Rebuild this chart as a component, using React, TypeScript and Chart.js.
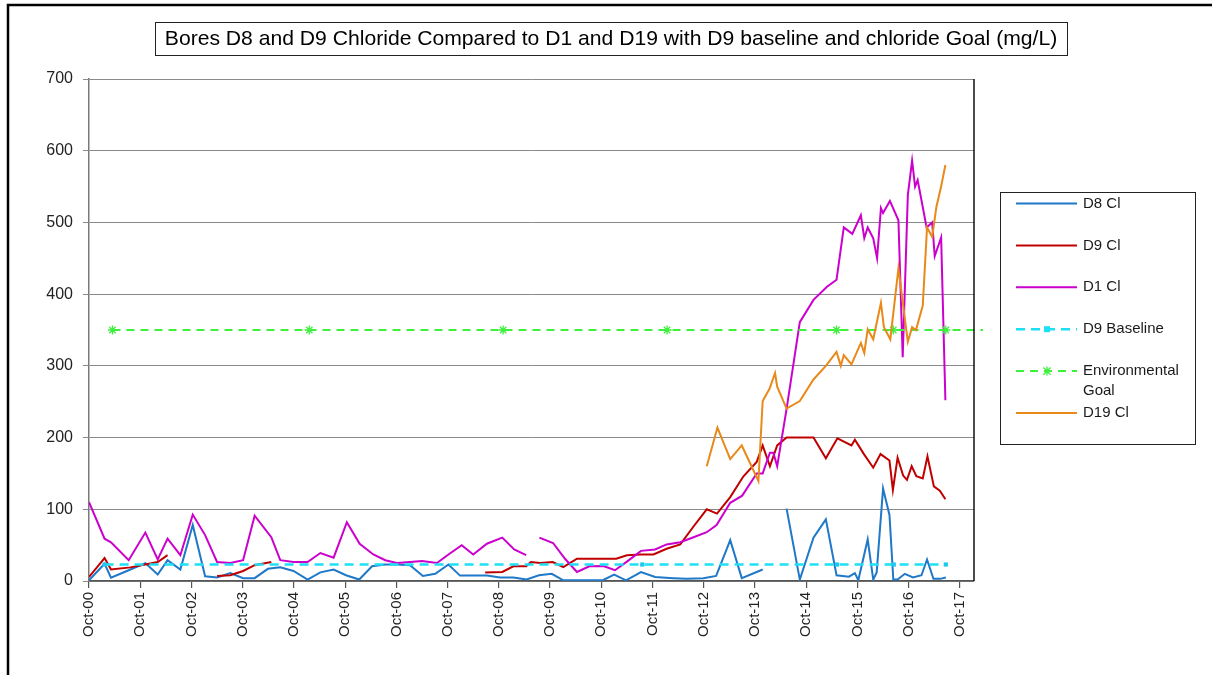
import React, { useEffect, useRef } from 'react';
import { Chart, registerables } from 'chart.js';

Chart.register(...registerables);

const FONT = '"Liberation Sans", Arial, sans-serif';

const TITLE = 'Bores D8 and D9 Chloride Compared to D1 and D19 with D9 baseline and chloride Goal (mg/L)';

// x values are months since Oct-2000
const X_TICK_LABELS = [
  'Oct-00', 'Oct-01', 'Oct-02', 'Oct-03', 'Oct-04', 'Oct-05', 'Oct-06', 'Oct-07', 'Oct-08',
  'Oct-09', 'Oct-10', 'Oct-11', 'Oct-12', 'Oct-13', 'Oct-14', 'Oct-15', 'Oct-16', 'Oct-17',
];
const Y_TICKS = [0, 100, 200, 300, 400, 500, 600, 700];

const D8_MONTHS = [
  0, 3.65, 5.15, 9.3, 13.2, 16.1, 18.4, 21.4, 24.3, 27.2, 30, 33.1, 36.1, 38.8, 41.9, 44.8, 47.9,
  51.2, 54.2, 57.3, 60.2, 63.3, 66.3, 69.4, 72.3, 75.2, 78.2, 81.1, 84.2, 86.9, 90, 93.2, 96.3,
  99.4, 102.5, 105.4, 108.4, 111.1, 114.3, 117.5, 120.5, 123, 125.8, 129.3, 132.6, 136.9, 140,
  143.9, 146.9, 150.2, 152.9, 157.8, 160.5, 163.4, 166.5, 169.7, 172.6, 175.1, 178, 179.4, 180.2,
  182.4, 183.7, 184.5, 186, 187.5, 188.4, 189.4, 191.1, 193, 195, 196.3, 197.8, 199.4, 200.7,
];
const D8_VALUES = [
  1, 24, 4.5, 15, 25, 9, 29, 16, 78, 6.5, 5, 11, 4, 4, 17, 19, 14,
  2, 12, 16, 8, 2, 20.5, 23, 23, 22, 7, 10, 23, 7.5, 7.5, 7.5, 5,
  5, 2, 8, 10, 1, 1, 1, 1.5, 9, 1, 12.5, 5.5, 4, 3,
  4, 7, 57, 4, 16, null, 101, 2, 60.5, 86, 8, 6, 11, 1,
  58, 2, 12, 129, 92, 2, 2, 10, 5, 8, 30, 3, 3, 5,
];

const D9_MONTHS = [
  0, 3.65, 5.15, 9.7, 13.2, 16.1, 18.4, 24, 30, 33.1, 36.1, 38.8, 42.7, 60,
  92.8, 96.8, 99.4, 102.4, 103.5, 105.7, 108.6, 111.1, 114.3, 117.5, 120.5, 123.5, 126, 129.2,
  132.2, 135.3, 138.5, 141.6, 144.7, 147.1, 150.2, 153.3, 156.4, 157.8, 159.5, 161.2, 163.4,
  166.5, 169.7, 172.6, 175.3, 178.6, 179.4, 181.4, 183.7, 185.4, 187.5, 188.3, 189.4, 190.7,
  191.6, 192.7, 193.8, 195.3, 196.4, 197.9, 199.3, 200.6,
];
const D9_VALUES = [
  5.6, 32, 16, 19, 23, 26.5, 36, null, 7, 8, 14, 22, 26.5, null,
  11.7, 12.6, 20.5, 20.5, 26.5, 25, 26.5, 19.5, 31, 31, 31, 31, 36, 37,
  37, 45, 51, 76, 100, 94, 117, 146, 166, 189, 160, 189, 200,
  200, 200, 171, 199, 189, 197, 178, 158, 177, 168, 127, 172, 147,
  141, 160, 146, 143, 174, 132, 126, 114,
];

const D1_MONTHS = [
  0, 3.65, 5.15, 9.3, 13.2, 16.1, 18.4, 21.4, 24.3, 27.2, 30, 33.1, 36.1, 38.8, 42.7, 44.8, 47.9,
  51.2, 54.2, 57.3, 60.4, 63.4, 66.6, 69.4, 72.1, 75.2, 78, 81.5, 84.2, 87.3, 90, 93.2, 96.8,
  99.6, 102.4, 104, 105.5, 108.7, 111.5, 114.3, 117.2, 120.5, 123.2, 126, 129.3, 132.6, 135.3,
  138.5, 141.6, 144.7, 147, 150.2, 153, 156.4, 157.8, 159.5, 160.3, 161.2, 163.4, 166.5, 169.7,
  172.8, 175.1, 176.8, 178.8, 180.8, 181.6, 182.4, 183.7, 184.6, 185.5, 186, 187.6, 189.6, 190.6,
  191.8, 192.8, 193.5, 194.1, 196.2, 197.5, 198.1, 199.6, 200.6,
];
const D1_VALUES = [
  110, 59, 54, 29, 67.5, 30, 59, 36, 92.6, 64, 26.5, 25, 29, 91, 61, 29, 26.5,
  26.5, 39, 32.6, 82, 52, 37, 29, 25, 26.5, 28, 25, 37, 50, 37, 52, 60.5,
  44, 36, null, 60.5, 53, 31, 12.6, 20.5, 21, 15, 27, 42, 44, 51,
  54, 61, 68, 78, 109, 119, 150, 150, 179, 179, 160, 240, 361, 392,
  410, 420, 493, 484, 510, 478, 493, 478, 450, 520, 513, 530, 503, 312,
  538, 586, 550, 559, 493, 500, 453, 479, 252,
];

const D19_MONTHS = [
  144.7, 147.2, 150.2, 152.9, 156.8, 157.8, 159.4, 160.7, 161.2, 163.4, 166.5, 169.7, 172.6,
  175.1, 176.1, 176.8, 178.6, 180.8, 181.6, 182.4, 183.7, 185.5, 186.2, 187.7, 189.6, 191.8,
  192.8, 193.7, 195.3, 196.3, 197.5, 198.5, 199.6, 200.6,
];
const D19_VALUES = [
  160, 214, 170, 189, 139.5, 251, 268, 290, 271, 240.5, 251, 281, 300,
  319.5, 300, 315, 302, 332, 318, 351, 337, 388, 354, 337, 436, 333.5,
  354, 350, 384, 493, 480, 522, 550, 580,
];

const BASELINE_MONTHS = [3.65, 129.6, 175.2, 188.5, 200.7];
const BASELINE_VALUES = [23, 23, 23, 23, 23];

const GOAL_MONTHS = [5.5, 51.6, 97, 135.4, 175.1, 188.4, 200.7, 209.4];
const GOAL_VALUES = [350, 350, 350, 350, 350, 350, 350, 350];

const X_MAX = 207.3;

const toPoints = (xs: number[], ys: (number | null)[]) => xs.map((x, i) => ({ x, y: ys[i] }));

function drawStar(ctx: CanvasRenderingContext2D, x: number, y: number, r: number, color: string) {
  ctx.save();
  ctx.strokeStyle = color;
  ctx.lineWidth = 1.3;
  ctx.setLineDash([]);
  ctx.beginPath();
  ctx.moveTo(x, y - r);
  ctx.lineTo(x, y + r);
  const d = r * 0.8;
  ctx.moveTo(x - d, y - d);
  ctx.lineTo(x + d, y + d);
  ctx.moveTo(x - d, y + d);
  ctx.lineTo(x + d, y - d);
  ctx.stroke();
  ctx.restore();
}

const decorPlugin = {
  id: 'decor',
  beforeDraw(chart: any) {
    const ctx = chart.ctx as CanvasRenderingContext2D;
    ctx.save();
    ctx.fillStyle = '#ffffff';
    ctx.fillRect(0, 0, chart.width, chart.height);
    ctx.restore();
  },
  afterDraw(chart: any) {
    const ctx = chart.ctx as CanvasRenderingContext2D;
    const area = chart.chartArea;
    ctx.save();
    // outer chart border (left & top)
    ctx.strokeStyle = '#000';
    ctx.lineWidth = 2.5;
    ctx.beginPath();
    ctx.moveTo(1220, 5);
    ctx.lineTo(8, 5);
    ctx.lineTo(8, 700);
    ctx.stroke();
    // plot area right border
    ctx.lineWidth = 1.5;
    ctx.strokeStyle = '#111';
    ctx.beginPath();
    ctx.moveTo(area.right, area.top);
    ctx.lineTo(area.right, area.bottom);
    ctx.stroke();

    // title box
    ctx.lineWidth = 1;
    ctx.strokeStyle = '#222';
    ctx.strokeRect(155.5, 22.5, 912, 33);
    ctx.fillStyle = '#000';
    ctx.font = `18px ${FONT}`;
    const w = ctx.measureText(TITLE).width;
    const size = (18 * 893) / w;
    ctx.font = `${size.toFixed(2)}px ${FONT}`;
    ctx.textAlign = 'center';
    ctx.textBaseline = 'middle';
    ctx.fillText(TITLE, 611, 39.5);

    // legend
    ctx.strokeStyle = '#222';
    ctx.strokeRect(1000.5, 192.5, 195, 252);
    const order = [0, 1, 2, 3, 4, 5];
    ctx.font = `15px ${FONT}`;
    ctx.textAlign = 'left';
    order.forEach((di, i) => {
      const ds = chart.data.datasets[di];
      const y = 203.5 + i * 41.9;
      ctx.save();
      ctx.strokeStyle = ds.borderColor;
      ctx.lineWidth = ds.borderWidth;
      ctx.setLineDash(ds.borderDash || []);
      ctx.beginPath();
      ctx.moveTo(1016, y);
      ctx.lineTo(1077, y);
      ctx.stroke();
      ctx.restore();
      if (ds.legendMarker === 'rect') {
        ctx.fillStyle = ds.borderColor;
        ctx.fillRect(1044, y - 3, 6, 6);
      } else if (ds.legendMarker === 'star') {
        drawStar(ctx, 1047, y, 4.5, ds.borderColor);
      }
      ctx.fillStyle = '#1a1a1a';
      const lines = String(ds.label).split('\n');
      lines.forEach((ln, k) => ctx.fillText(ln, 1083, y + k * 20));
    });
    ctx.restore();
  },
};

export default function App() {
  const ref = useRef<HTMLCanvasElement | null>(null);
  useEffect(() => {
    if (!ref.current) return;
    const chart = new Chart(ref.current, {
      type: 'line',
      data: {
        datasets: [
          {
            label: 'D8 Cl', data: toPoints(D8_MONTHS, D8_VALUES), borderColor: '#1F78C8',
            borderWidth: 2, pointRadius: 0, tension: 0, spanGaps: false, order: 6,
          },
          {
            label: 'D9 Cl', data: toPoints(D9_MONTHS, D9_VALUES), borderColor: '#C00000',
            borderWidth: 2, pointRadius: 0, tension: 0, spanGaps: false, order: 5,
          },
          {
            label: 'D1 Cl', data: toPoints(D1_MONTHS, D1_VALUES), borderColor: '#CC00CC',
            borderWidth: 2, pointRadius: 0, tension: 0, spanGaps: false, order: 4,
          },
          {
            label: 'D9 Baseline', data: toPoints(BASELINE_MONTHS, BASELINE_VALUES), borderColor: '#1EE0F5',
            backgroundColor: '#1EC8F0', borderWidth: 2.5, borderDash: [9, 6], pointRadius: 3,
            pointStyle: 'rect', pointBorderWidth: 0, tension: 0, order: 3, legendMarker: 'rect',
          },
          {
            label: 'Environmental\nGoal', data: toPoints(GOAL_MONTHS, GOAL_VALUES), borderColor: '#3CF03C',
            backgroundColor: '#3CF03C', borderWidth: 2, borderDash: [8, 6],
            pointRadius: [4.5, 4.5, 4.5, 4.5, 4.5, 4.5, 4.5, 0], pointStyle: 'star', pointBorderWidth: 1.3,
            tension: 0, order: 2, clip: false, legendMarker: 'star',
          },
          {
            label: 'D19 Cl', data: toPoints(D19_MONTHS, D19_VALUES), borderColor: '#E8891A',
            borderWidth: 2, pointRadius: 0, tension: 0, spanGaps: false, order: 1,
          },
        ] as any,
      },
      options: {
        responsive: false,
        animation: false,
        events: [],
        layout: { padding: { left: 0, right: 238, top: 79, bottom: 0 } },
        plugins: { legend: { display: false }, title: { display: false }, tooltip: { enabled: false } },
        scales: {
          x: {
            type: 'linear',
            min: 0,
            max: X_MAX,
            afterBuildTicks: (s: any) => { s.ticks = X_TICK_LABELS.map((_, i) => ({ value: i * 12 })); },
            afterFit: (s: any) => { s.height = 94; },
            ticks: {
              autoSkip: false, minRotation: 90, maxRotation: 90, padding: 4,
              font: { size: 15, family: FONT }, color: '#222',
              callback: (v: any) => X_TICK_LABELS[Math.round(Number(v) / 12)],
            },
            grid: { drawOnChartArea: false, drawTicks: true, tickLength: 7, color: '#555', lineWidth: 1.2 },
            border: { color: '#555', width: 1.5 },
          },
          y: {
            min: 0,
            max: 700,
            afterBuildTicks: (s: any) => { s.ticks = Y_TICKS.map((v) => ({ value: v })); },
            afterFit: (s: any) => { s.width = 89; },
            ticks: { padding: 10, font: { size: 16, family: FONT }, color: '#222' },
            grid: { color: '#8a8a8a', lineWidth: 1, tickLength: 6 },
            border: { color: '#7a7a7a', width: 1.5 },
          },
        },
      } as any,
      plugins: [decorPlugin],
    });
    return () => chart.destroy();
  }, []);
  return (
    <div style={{ position: 'fixed', left: 0, top: 0, width: 1212, height: 675, background: '#fff' }}>
      <canvas ref={ref} width={1212} height={675} style={{ display: 'block', width: 1212, height: 675 }} />
    </div>
  );
}
